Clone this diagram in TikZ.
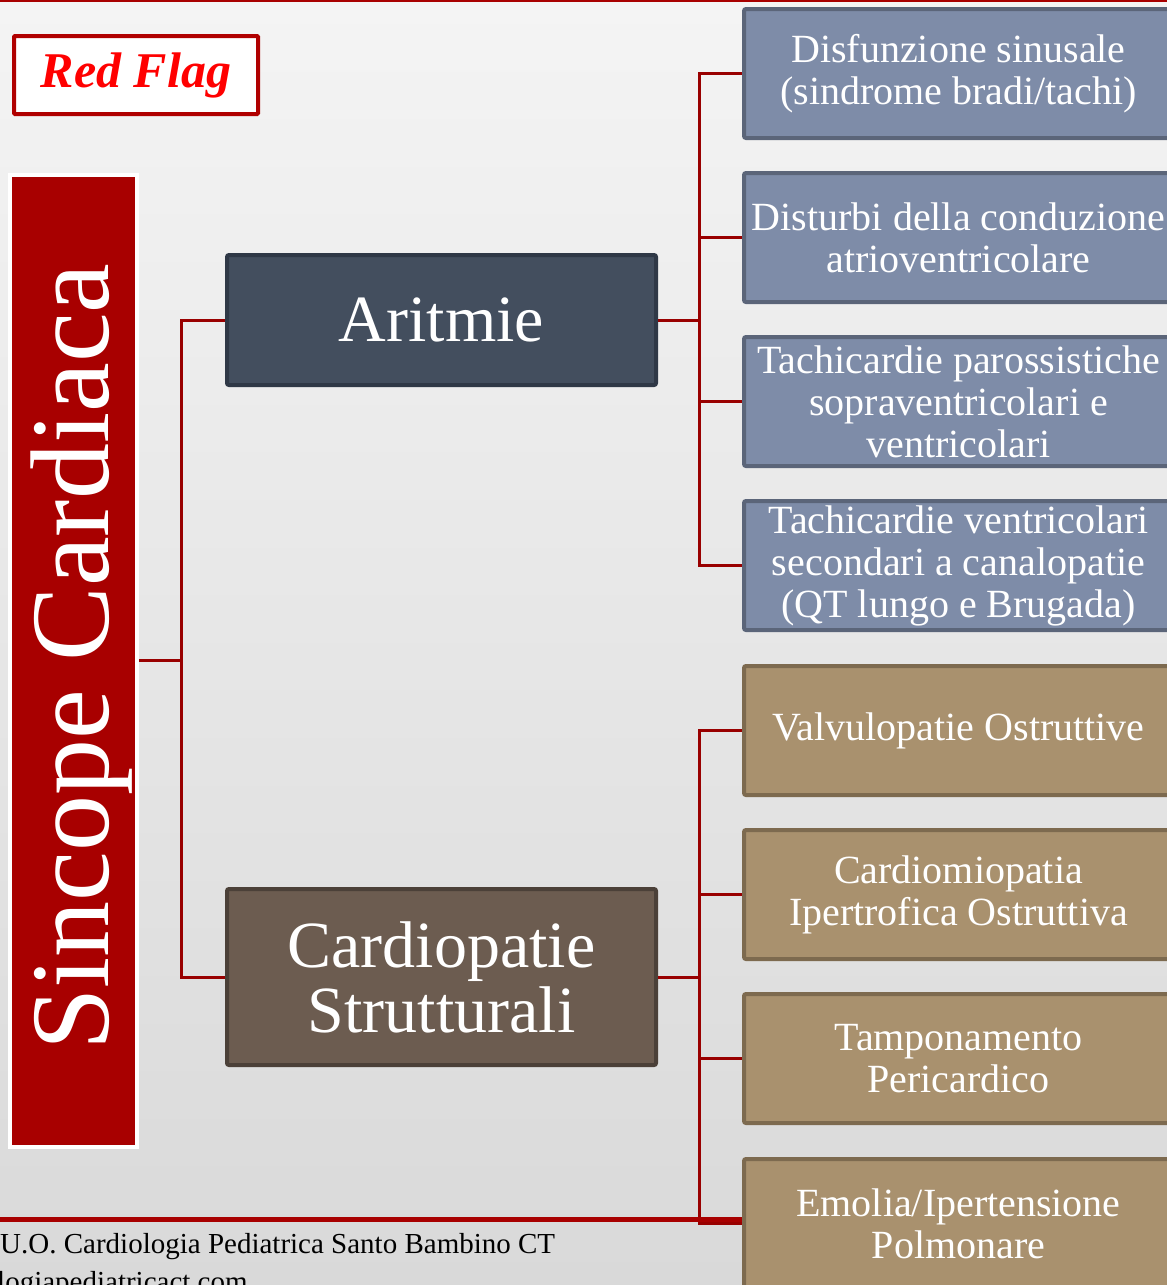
\documentclass[tikz,border=0pt]{standalone}
\usepackage{fontspec}
\setmainfont{Liberation Serif}
\definecolor{paperTop}{HTML}{F4F4F4}
\definecolor{paperBot}{HTML}{D9D9D9}
\definecolor{barRed}{HTML}{A80000}
\definecolor{linkRed}{HTML}{990000}
\definecolor{flagRed}{HTML}{B00000}
\definecolor{flagText}{HTML}{FF0000}
\definecolor{slateF}{HTML}{434E5E}
\definecolor{slateD}{HTML}{2F3846}
\definecolor{umberF}{HTML}{6C5C50}
\definecolor{umberD}{HTML}{4B4038}
\definecolor{blueF}{HTML}{7E8CA8}
\definecolor{blueD}{HTML}{5B6579}
\definecolor{tanF}{HTML}{A9916E}
\definecolor{tanD}{HTML}{7D6A4F}
\tikzset{
  conn/.style={draw=linkRed, line width=3pt},
  midbox/.style={line width=4pt, rounded corners=2pt, minimum width=429pt,
    inner sep=0pt, text=white, align=center,
    font=\fontsize{66}{65}\selectfont},
  leafbox/.style={line width=4pt, rounded corners=2pt, minimum width=429pt,
    minimum height=129pt, inner sep=0pt, text=white, align=center,
    font=\fontsize{40}{42}\selectfont},
  bluebox/.style={leafbox, fill=blueF, draw=blueD},
  tanbox/.style={leafbox, fill=tanF, draw=tanD},
}
\begin{document}
\begin{tikzpicture}[x=1pt,y=-1pt]
  % paper background
  \shade[top color=paperTop, bottom color=paperBot] (0,0) rectangle (1167,1285);
  \useasboundingbox (0,0) rectangle (1167,1285);
  \clip (0,0) rectangle (1167,1285);

  % top rule
  \draw[draw=barRed, line width=2pt] (0,1) -- (1167,1);

  % title bar
  \node[fill=barRed, draw=white, line width=4pt, minimum width=127pt,
        minimum height=972pt, inner sep=0pt] (sc) at (73.5,661) {};
  \node[rotate=90, anchor=base, text=white,
        font=\fontsize{112}{112}\selectfont] (sct) at (108,657) {Sincope Cardiaca};

  % flag label
  \node[fill=white, draw=flagRed, line width=4pt, rounded corners=1pt,
        minimum width=244pt, minimum height=78pt, inner sep=0pt,
        minimum height=78pt, text=flagText,
        font=\fontsize{50}{50}\selectfont\bfseries\itshape]
        (flag) at (136,75) {\raisebox{-3pt}{Red Flag}};

  % main categories
  \node[midbox, fill=slateF, draw=slateD, minimum height=130pt] (ar) at (441.5,320) {Aritmie};
  \node[midbox, fill=umberF, draw=umberD, minimum height=176pt] (cp) at (441.5,977) {Cardiopatie\\Strutturali};

  % arrhythmia leaves
  \node[bluebox] (l1) at (958.5,73.5)  {Disfunzione sinusale\\(sindrome bradi/tachi)};
  \node[bluebox] (l2) at (958.5,237.5) {Disturbi della conduzione\\atrioventricolare};
  \node[bluebox] (l3) at (958.5,401.5) {Tachicardie parossistiche\\sopraventricolari e\\ventricolari};
  \node[bluebox] (l4) at (958.5,565.5) {Tachicardie ventricolari\\secondari a canalopatie\\(QT lungo e Brugada)};

  % structural leaves
  \node[tanbox] (s1) at (958.5,730.5)  {Valvulopatie Ostruttive};
  \node[tanbox] (s2) at (958.5,894.5)  {Cardiomiopatia\\Ipertrofica Ostruttiva};
  \node[tanbox] (s3) at (958.5,1058.5) {Tamponamento\\Pericardico};
  \node[tanbox] (s4) at (958.5,1223.5) {Emolia/Ipertensione\\Polmonare};

  % junctions
  \coordinate (jm) at (181,660);
  \coordinate (ja) at (699,320);
  \coordinate (jc) at (699,977);

  \draw[conn] (sc.east |- jm) -- (jm);
  \draw[conn] (jm) |- (ar.west);
  \draw[conn] (jm) |- (cp.west);

  \draw[conn] (ar.east) -- (ja);
  \foreach \n in {l1,l2,l3,l4} \draw[conn] (ja) |- (\n.west);

  \draw[conn] (cp.east) -- (jc);
  \foreach \n in {s1,s2,s3,s4} \draw[conn] (jc) |- (\n.west);

  % footer
  \coordinate (fl) at (0,1219);
  \draw[draw=barRed, line width=5pt] (fl) -- (s4.west |- fl);
  \node[anchor=base west, inner sep=0pt, font=\fontsize{29}{29}\selectfont]
        (ft1) at (0,1253) {U.O. Cardiologia Pediatrica Santo Bambino CT};
  \node[anchor=base west, inner sep=0pt, font=\fontsize{29}{29}\selectfont]
        (ft2) at (-3,1291) {logiapediatricact.com};
\end{tikzpicture}
\end{document}
